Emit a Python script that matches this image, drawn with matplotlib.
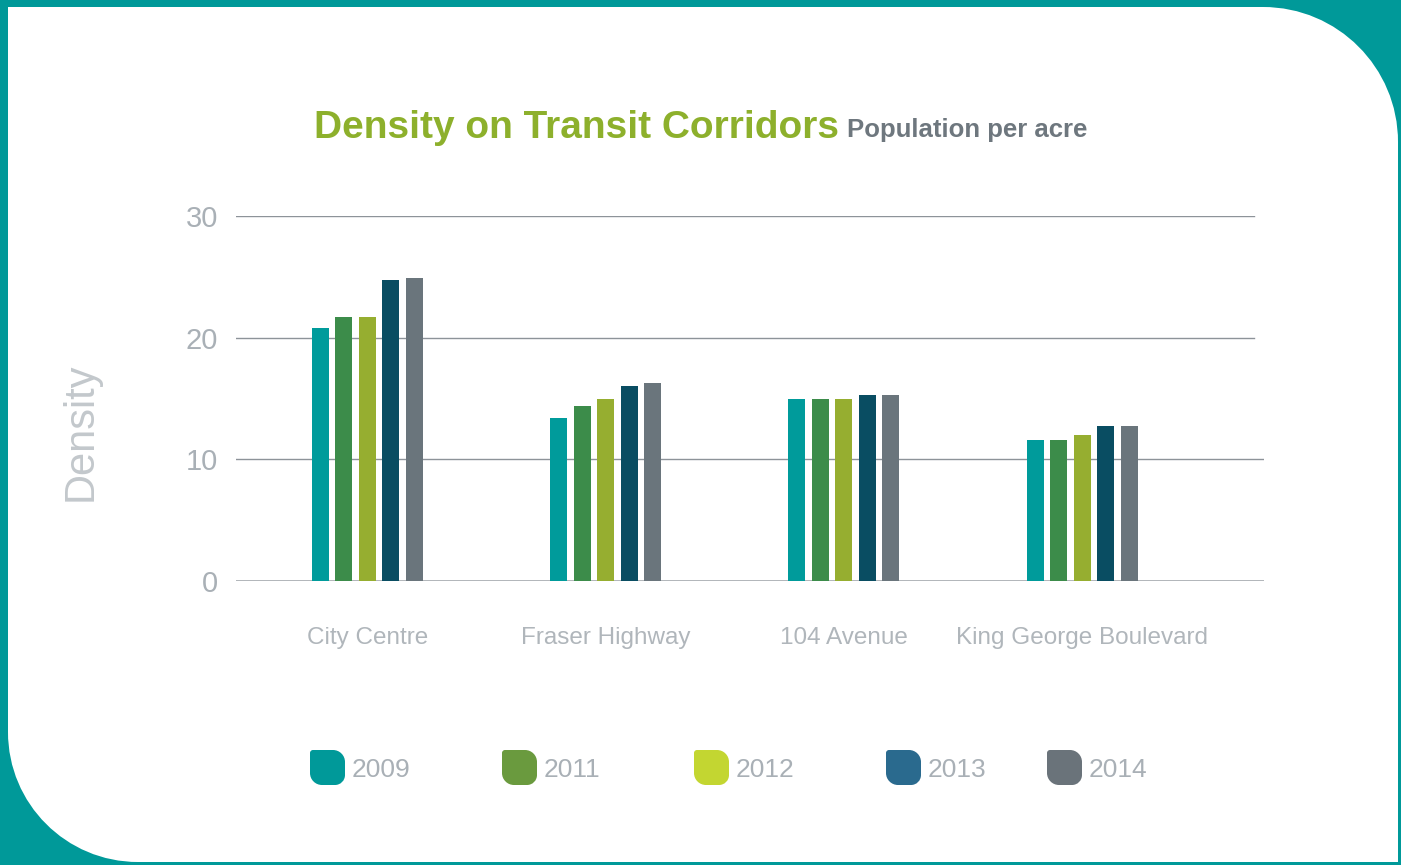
import matplotlib
matplotlib.use("Agg")
import matplotlib.pyplot as plt
import numpy as np
from matplotlib.path import Path
from matplotlib.patches import PathPatch

categories = ["City Centre", "Fraser Highway", "104 Avenue", "King George Boulevard"]
years = ["2009", "2011", "2012", "2013", "2014"]
v2009 = [20.8, 13.4, 15.0, 11.6]
v2011 = [21.7, 14.4, 15.0, 11.6]
v2012 = [21.7, 15.0, 15.0, 12.0]
v2013 = [24.7, 16.0, 15.3, 12.7]
v2014 = [24.9, 16.3, 15.3, 12.7]
series = [v2009, v2011, v2012, v2013, v2014]
yticks = [0, 10, 20, 30]

bar_colors = ["#009b9b", "#3c8c4a", "#96ae30", "#094d62", "#6a757c"]
legend_colors = ["#009999", "#6a9a3e", "#c3d631", "#2a6a8e", "#6a737a"]
TEAL = "#009999"

W, H = 1401, 865
fig = plt.figure(figsize=(W / 100, H / 100), dpi=100, facecolor=TEAL)

# background panel in pixel coordinates
bg = fig.add_axes([0, 0, 1, 1])
bg.set_xlim(0, W)
bg.set_ylim(H, 0)
bg.axis("off")
k = 0.5523
L, T, R, B = 8, 7, 1398, 862
rtr, rbl = 135, 130
verts = [(L, T), (R - rtr, T),
         (R - rtr + k * rtr, T), (R, T + rtr - k * rtr), (R, T + rtr),
         (R, B), (L + rbl, B),
         (L + rbl - k * rbl, B), (L, B - rbl + k * rbl), (L, B - rbl),
         (L, T)]
codes = [Path.MOVETO, Path.LINETO,
         Path.CURVE4, Path.CURVE4, Path.CURVE4,
         Path.LINETO, Path.LINETO,
         Path.CURVE4, Path.CURVE4, Path.CURVE4,
         Path.CLOSEPOLY]
bg.add_patch(PathPatch(Path(verts, codes), facecolor="white", edgecolor="none"))


def leaf(x0, y0, w, h, rtl, rtr_, rbr, rbl_):
    v = [(x0 + rtl, y0), (x0 + w - rtr_, y0),
         (x0 + w - rtr_ + k * rtr_, y0), (x0 + w, y0 + rtr_ - k * rtr_), (x0 + w, y0 + rtr_),
         (x0 + w, y0 + h - rbr),
         (x0 + w, y0 + h - rbr + k * rbr), (x0 + w - rbr + k * rbr, y0 + h), (x0 + w - rbr, y0 + h),
         (x0 + rbl_, y0 + h),
         (x0 + rbl_ - k * rbl_, y0 + h), (x0, y0 + h - rbl_ + k * rbl_), (x0, y0 + h - rbl_),
         (x0, y0 + rtl),
         (x0, y0 + rtl - k * rtl), (x0 + rtl - k * rtl, y0), (x0 + rtl, y0),
         (x0 + rtl, y0)]
    c = [Path.MOVETO, Path.LINETO] + [Path.CURVE4] * 3 + [Path.LINETO] + [Path.CURVE4] * 3 + \
        [Path.LINETO] + [Path.CURVE4] * 3 + [Path.LINETO] + [Path.CURVE4] * 3 + [Path.CLOSEPOLY]
    return Path(v, c)


# legend
leg_x = [310, 502, 694, 886, 1047]
for i, (yr, col) in enumerate(zip(years, legend_colors)):
    x0 = leg_x[i]
    bg.add_patch(PathPatch(leaf(x0, 750, 35, 35, 3, 12, 10, 12), facecolor=col, edgecolor="none"))
    bg.text(x0 + 42, 770, yr, fontsize=19, color="#a9b0b6", va="center", ha="left",
            family="Liberation Sans")

# title
bg.text(314, 138, "Density on Transit Corridors", fontsize=28, fontweight="bold",
        color="#8db02c", ha="left", va="baseline", family="Liberation Sans")
bg.text(847, 137, "Population per acre", fontsize=18.5, fontweight="bold",
        color="#6e777e", ha="left", va="baseline", family="Liberation Sans")

# main axes
ax_left = 236 / W
ax_w = (1264 - 236) / W
ax_bottom = (H - 581) / H
ax_h = (581 - 216) / H
ax = fig.add_axes([ax_left, ax_bottom, ax_w, ax_h])
ax.set_facecolor("none")
for s in ax.spines.values():
    s.set_visible(False)

x = np.arange(len(categories))
width = 0.0714
step = 0.0987
for i, (vals, col) in enumerate(zip(series, bar_colors)):
    ax.bar(x + (i - 2) * step, vals, width=width, color=col, zorder=3)

ax.set_xlim(-0.552, 3.764)
ax.set_ylim(0, 30)
for t in yticks:
    xmax = 1.0 if t <= 10 else (1254 - 236) / (1264 - 236)
    ax.axhline(t, xmin=0, xmax=xmax, color="#9aa0a5" if t == 0 else "#8d9399",
               lw=1.8 if t == 0 else 1.0, zorder=2)
ax.set_yticks(yticks)
ax.set_yticklabels([str(t) for t in yticks], fontsize=21, color="#a9b0b6",
                   family="Liberation Sans")
ax.set_xticks(x)
ax.set_xticklabels(categories, fontsize=17.5, color="#b0b6bb", family="Liberation Sans")
ax.tick_params(axis="both", length=0)
ax.tick_params(axis="x", pad=33)
ax.tick_params(axis="y", pad=13)
ax.set_ylabel("Density", fontsize=30, color="#c3c8cc", family="Liberation Sans")
ax.yaxis.set_label_coords(-0.132, 0.408)

fig.savefig("out.png", dpi=100, facecolor=TEAL)
